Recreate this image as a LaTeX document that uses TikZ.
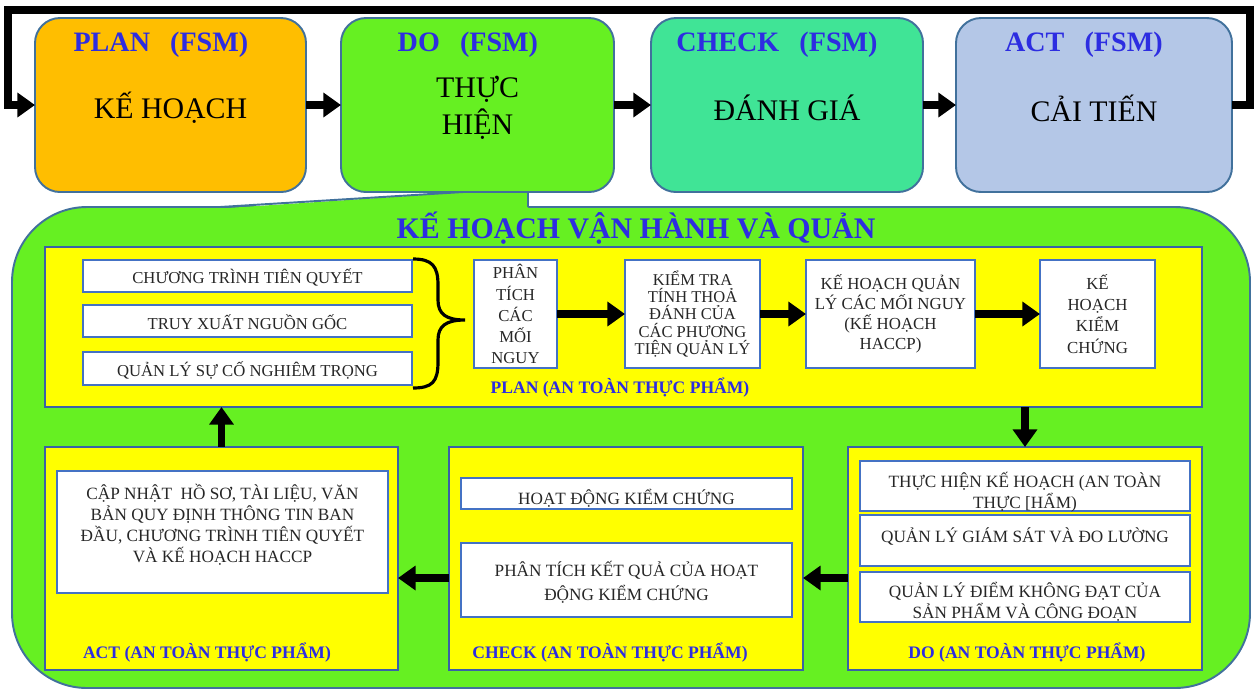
\documentclass[tikz,border=0pt]{standalone}
\usepackage{fontspec}
\setmainfont{Liberation Serif}
\usetikzlibrary{arrows.meta}
\definecolor{orangeA}{RGB}{255,190,0}
\definecolor{greenA}{RGB}{102,240,34}
\definecolor{tealA}{RGB}{64,228,150}
\definecolor{blueA}{RGB}{180,199,231}
\definecolor{yellowA}{RGB}{255,255,0}
\definecolor{edgeA}{RGB}{65,113,156}
\definecolor{edgeB}{RGB}{68,114,196}
\definecolor{titleblue}{RGB}{45,45,225}
\newcommand\pw{0.02cm}
\newcommand\lpar{\makebox[1.05em][r]{(}}
\newcommand\rpar{\makebox[1.05em][l]{)}}
\begin{document}
\begin{tikzpicture}[x=0.02cm,y=-0.02cm,
  topbox/.style={draw=edgeA, line width=1.1pt, rounded corners=0.5cm, inner sep=0pt, outer sep=0pt},
  panel/.style={draw=edgeB!85!black, line width=0.9pt, fill=yellowA, inner sep=0pt, outer sep=0pt},
  wbox/.style={draw=edgeB, line width=0.9pt, fill=white, inner sep=0pt, outer sep=0pt},
  toptitle/.style={text=titleblue, font=\fontsize{16}{19}\selectfont\bfseries, inner sep=0pt},
  topbody/.style={font=\fontsize{17}{21}\selectfont, align=center, inner sep=0pt},
  ptitle/.style={text=titleblue, font=\fontsize{10}{12}\selectfont\bfseries, inner sep=0pt},
  btext/.style={font=\fontsize{9.5}{11.5}\selectfont, align=center, text=black!85, inner sep=0pt},
  arr/.style={line width=4.2pt, -{Triangle[length=10pt,width=13.5pt]}},
]
\useasboundingbox (0,0) rectangle (1255,691);

% callout frame holding the food-safety cycle
\draw[draw=edgeA, line width=1.1pt, fill=greenA, rounded corners=1.5cm] (12,207) rectangle (1250,688);
\fill[greenA] (220,208.5) -- (528,188) -- (528,208.5) -- cycle;
\draw[edgeA, line width=1.1pt] (220,207) -- (528,188) -- (528,207);

% top PDCA row
\node[topbox, fill=orangeA, minimum width=271*\pw, minimum height=174*\pw] (plan) at (170.5,105) {};
\node[topbox, fill=greenA,  minimum width=273*\pw, minimum height=174*\pw] (do) at (477.5,105) {};
\node[topbox, fill=tealA,   minimum width=272*\pw, minimum height=174*\pw] (check) at (787,105) {};
\node[topbox, fill=blueA,   minimum width=276*\pw, minimum height=174*\pw] (act) at (1094,105) {};

\node[toptitle] (plan-t)  at (171,45) {PLAN\lpar FSM\rpar};
\node[toptitle] (do-t)    at (478,45) {DO\lpar FSM\rpar};
\node[toptitle] (check-t) at (787,45)   {CHECK\lpar FSM\rpar};
\node[toptitle] (act-t)   at (1094,45)  {ACT\lpar FSM\rpar};

\node[topbody] (plan-b)  at (170.5,108) {KẾ HOẠCH};
\node[topbody] (do-b)    at (477.5,108) {THỰC\\HIỆN};
\node[topbody] (check-b) at (787,108)   {ĐÁNH GIÁ};
\node[topbody] (act-b)   at (1094,108)  {CẢI TIẾN};

\draw[arr] (plan.east) -- (do.west);
\draw[arr] (do.east) -- (check.west);
\draw[arr] (check.east) -- (act.west);
\coordinate (loopR) at (1250,10);
\coordinate (loopL) at (8,10);
\draw[arr] (act.east) -| (loopR) -- (loopL) |- (plan.west);

% heading of the callout
\node[text=titleblue, font=\fontsize{17}{20}\selectfont\bfseries, inner sep=0pt] (head) at (636,228) {KẾ HOẠCH VẬN HÀNH VÀ QUẢN};

% PLAN panel
\node[panel, minimum width=1157*\pw, minimum height=160*\pw] (planp) at (623.5,327) {};
\node[wbox, minimum width=329*\pw, minimum height=32*\pw] (pre) at (247.5,276) {};
\node[wbox, minimum width=329*\pw, minimum height=32*\pw] (trace) at (247.5,321) {};
\node[wbox, minimum width=329*\pw, minimum height=33*\pw] (incid) at (247.5,368.5) {};
\node[btext] (pre-t) at (247.5,277) {CHƯƠNG TRÌNH TIÊN QUYẾT};
\node[btext] (trace-t) at (247.5,322) {TRUY XUẤT NGUỒN GỐC};
\node[btext] (incid-t) at (247.5,370) {QUẢN LÝ SỰ CỐ NGHIÊM TRỌNG};
\draw[line width=1.8pt] (413,259) .. controls (432,259) and (438,266) .. (438,285) -- (438,300)
  .. controls (438,314) and (446,320) .. (465,320)
  .. controls (446,320) and (438,326) .. (438,340) -- (438,362)
  .. controls (438,382) and (432,388) .. (413,388);

\node[wbox, minimum width=83*\pw, minimum height=108*\pw, btext, font=\fontsize{9.5}{12}\selectfont] (haz) at (515.5,314) {PHÂN\\TÍCH\\CÁC\\MỐI\\NGUY};
\node[wbox, minimum width=135*\pw, minimum height=108*\pw, btext, font=\fontsize{9.4}{9.9}\selectfont] (valid) at (692.5,314) {KIỂM TRA\\TÍNH THOẢ\\ĐÁNH CỦA\\CÁC PHƯƠNG\\TIỆN QUẢN LÝ};
\node[wbox, minimum width=169*\pw, minimum height=108*\pw, btext, font=\fontsize{9.6}{11.4}\selectfont] (haccp) at (890.5,314) {KẾ HOẠCH QUẢN\\LÝ CÁC MỐI NGUY\\(KẾ HOẠCH\\HACCP)};
\node[wbox, minimum width=115*\pw, minimum height=108*\pw, btext, font=\fontsize{9.6}{12}\selectfont] (verif) at (1097.5,314) {KẾ\\HOẠCH\\KIỂM\\CHỨNG};
\draw[arr] (haz.east) -- (valid.west);
\draw[arr] (valid.east) -- (haccp.west);
\draw[arr] (haccp.east) -- (verif.west);
\node[ptitle] (planp-t) at (620,388) {PLAN (AN TOÀN THỰC PHẨM)};

% DO panel
\node[panel, minimum width=354*\pw, minimum height=223*\pw] (dop) at (1025,558.5) {};
\node[wbox, minimum width=330*\pw, minimum height=50*\pw] (do1) at (1025,486) {};
\node[wbox, minimum width=330*\pw, minimum height=51*\pw] (do2) at (1025,540.5) {};
\node[wbox, minimum width=330*\pw, minimum height=50*\pw] (do3) at (1025,597) {};
\node[btext, font=\fontsize{9.8}{11.8}\selectfont] (do1-t) at (1025,492) {THỰC HIỆN KẾ HOẠCH (AN TOÀN\\THỰC [HẨM)};
\node[btext, font=\fontsize{9.8}{11.8}\selectfont] (do2-t) at (1025,536) {QUẢN LÝ GIÁM SÁT VÀ ĐO LƯỜNG};
\node[btext, font=\fontsize{9.8}{11.8}\selectfont] (do3-t) at (1025,602) {QUẢN LÝ ĐIỂM KHÔNG ĐẠT CỦA\\SẢN PHẨM VÀ CÔNG ĐOẠN};
\node[ptitle] (dop-t) at (1027,653) {DO (AN TOÀN THỰC PHẨM)};

% CHECK panel
\node[panel, minimum width=354*\pw, minimum height=223*\pw] (chp) at (626,558.5) {};
\node[wbox, minimum width=331*\pw, minimum height=31*\pw] (ch1) at (626.5,493.5) {};
\node[wbox, minimum width=331*\pw, minimum height=74*\pw] (ch2) at (626.5,580) {};
\node[btext, font=\fontsize{9.8}{11.8}\selectfont] (ch1-t) at (626.5,498) {HOẠT ĐỘNG KIỂM CHỨNG};
\node[btext, font=\fontsize{9.8}{13.5}\selectfont] (ch2-t) at (626.5,582) {PHÂN TÍCH KẾT QUẢ CỦA HOẠT\\ĐỘNG KIỂM CHỨNG};
\node[ptitle] (chp-t) at (610,653) {CHECK (AN TOÀN THỰC PHẨM)};

% ACT panel
\node[panel, minimum width=353*\pw, minimum height=223*\pw] (acp) at (221.5,558.5) {};
\node[wbox, minimum width=331*\pw, minimum height=122*\pw] (ac1) at (222.5,532) {};
\node[btext, font=\fontsize{9.8}{12}\selectfont] (ac1-t) at (222.5,525) {CẬP NHẬT\ \ HỒ SƠ, TÀI LIỆU, VĂN\\BẢN QUY ĐỊNH THÔNG TIN BAN\\ĐẦU, CHƯƠNG TRÌNH TIÊN QUYẾT\\VÀ KẾ HOẠCH HACCP};
\node[ptitle] (acp-t) at (207,653) {ACT (AN TOÀN THỰC PHẨM)};

% links between the panels
\draw[arr] (dop.north |- planp.south) -- (dop.north);
\draw[arr] ([yshift=-0.39cm]dop.west) -- ([yshift=-0.39cm]chp.east);
\draw[arr] ([yshift=-0.39cm]chp.west) -- ([yshift=-0.39cm]acp.east);
\draw[arr] (acp.north) -- (acp.north |- planp.south);
\end{tikzpicture}
\end{document}
